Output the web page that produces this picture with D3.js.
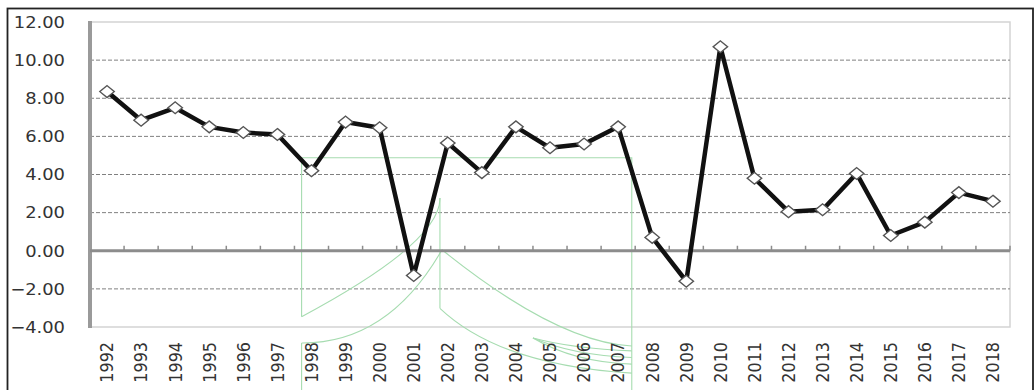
<!DOCTYPE html>
<html>
<head>
<meta charset="utf-8">
<script src="https://cdn.jsdelivr.net/npm/d3@7"></script>
<style>
  html, body { margin: 0; padding: 0; background: #fff; }
  svg { display: block; }
  text { font-family: "DejaVu Sans", Verdana, sans-serif; fill: #333; }
</style>
</head>
<body>
<svg id="chart" width="1035" height="390"></svg>
<script>
// Annual growth rate, 1992–2018
const years = ["1992","1993","1994","1995","1996","1997","1998","1999","2000","2001",
               "2002","2003","2004","2005","2006","2007","2008","2009","2010","2011",
               "2012","2013","2014","2015","2016","2017","2018"];
const values = [8.35, 6.85, 7.5, 6.5, 6.2, 6.1, 4.2, 6.75, 6.45, -1.3,
                5.65, 4.1, 6.5, 5.4, 5.6, 6.5, 0.7, -1.6, 10.7, 3.8,
                2.05, 2.15, 4.05, 0.8, 1.5, 3.05, 2.6];
const yTicks = [-4, -2, 0, 2, 4, 6, 8, 10, 12];

const svg = d3.select("#chart");
const plot = { left: 90, right: 1010, top: 22, bottom: 327 };

const x = d3.scaleBand().domain(years).range([plot.left, plot.right]).padding(0);
const y = d3.scaleLinear().domain([-4, 12]).range([plot.bottom, plot.top]);
// fractional category position (in band units from the left edge)
const xi = d3.scaleLinear().domain([0, years.length]).range([plot.left, plot.right]);
const cx = d => x(d) + x.bandwidth() / 2;

// outer frame
svg.append("rect")
  .attr("x", 7.5).attr("y", 8.5).attr("width", 1025.5).attr("height", 400)
  .attr("fill", "none").attr("stroke", "#222").attr("stroke-width", 1.8);

// plot border (top / right / bottom)
svg.append("path")
  .attr("d", `M${plot.left},${plot.top}H${plot.right}V${plot.bottom}H${plot.left}`)
  .attr("fill", "none").attr("stroke", "#d4d4d4").attr("stroke-width", 1.5);

// dashed gridlines
svg.append("g").selectAll("line")
  .data(yTicks.filter(v => v !== 0 && v !== -4 && v !== 12))
  .join("line")
  .attr("x1", plot.left).attr("x2", plot.right)
  .attr("y1", d => y(d)).attr("y2", d => y(d))
  .attr("stroke", "#808080").attr("stroke-width", 1)
  .attr("stroke-dasharray", "4,2");

// y-axis labels
svg.append("g").selectAll("text")
  .data(yTicks)
  .join("text")
  .attr("transform", d => `translate(65,${y(d)}) scale(1.12,1)`)
  .attr("text-anchor", "end")
  .attr("dy", "0.36em")
  .attr("font-size", 16)
  .text(d => d3.format(".2f")(d));

// green guide lines drawn over the plot
const guides = svg.append("g")
  .attr("fill", "none").attr("stroke", "#a6dcb0").attr("stroke-width", 1.1);
function px(i, v) { return [xi(i), y(v)]; }
function qPath(a, c, b) {
  const p = d3.path();
  p.moveTo(...px(...a));
  p.quadraticCurveTo(...px(...c), ...px(...b));
  return p.toString();
}
function lPath(pts) {
  return d3.line()(pts.map(q => px(...q)));
}
guides.append("path").attr("d", lPath([[6.21, -3.46], [6.21, 4.88], [15.9, 4.88], [15.9, -8]]));
guides.append("path").attr("d", qPath([6.21, -3.46], [10.3, 0.45], [10.27, 2.77]));
guides.append("path").attr("d", lPath([[10.27, 2.77], [10.27, -3.02]]));
guides.append("path").attr("d", lPath([[6.21, -8], [6.21, -4.84]]));
guides.append("path").attr("d", qPath([6.21, -4.84], [8.75, -4.87], [10.33, 0.05]));
guides.append("path").attr("d", qPath([10.33, 0.05], [13.7, -4.8], [15.9, -5.0]));
guides.append("path").attr("d", qPath([10.27, -3.02], [12.03, -6.0], [15.9, -6.42]));
[-5.25, -5.6, -5.95].forEach(v => {
  guides.append("path").attr("d", qPath([13.0, -4.58], [14.2, v + 0.1], [15.9, v]));
});

// left axis
svg.append("line")
  .attr("x1", plot.left).attr("x2", plot.left)
  .attr("y1", plot.top - 1).attr("y2", plot.bottom + 1)
  .attr("stroke", "#9a9a9a").attr("stroke-width", 4);

// zero axis with category ticks
svg.append("line")
  .attr("x1", plot.left).attr("x2", plot.right)
  .attr("y1", y(0)).attr("y2", y(0))
  .attr("stroke", "#8c8c8c").attr("stroke-width", 3);
svg.append("g").selectAll("line")
  .data(d3.range(1, years.length + 1))
  .join("line")
  .attr("x1", d => xi(d)).attr("x2", d => xi(d))
  .attr("y1", y(0)).attr("y2", y(0) - 5)
  .attr("stroke", "#8c8c8c").attr("stroke-width", 1.5);

// x-axis labels (rotated)
svg.append("g").selectAll("text")
  .data(years)
  .join("text")
  .attr("transform", d => `translate(${cx(d)},342) scale(1.1,1) rotate(-90)`)
  .attr("text-anchor", "end")
  .attr("dy", "0.36em")
  .attr("font-size", 16)
  .text(d => d);

// series line
const line = d3.line().x((d, i) => cx(years[i])).y(d => y(d));
svg.append("path")
  .datum(values)
  .attr("d", line)
  .attr("fill", "none").attr("stroke", "#111").attr("stroke-width", 4.5)
  .attr("stroke-linejoin", "round");

// diamond markers
const diamond = d3.symbol().type(d3.symbolDiamond2).size(110);
svg.append("g").selectAll("path")
  .data(values)
  .join("path")
  .attr("d", diamond)
  .attr("transform", (d, i) => `translate(${cx(years[i])},${y(d)}) scale(1.1,0.9)`)
  .attr("fill", "#fff").attr("stroke", "#555").attr("stroke-width", 1.4);
</script>
</body>
</html>
